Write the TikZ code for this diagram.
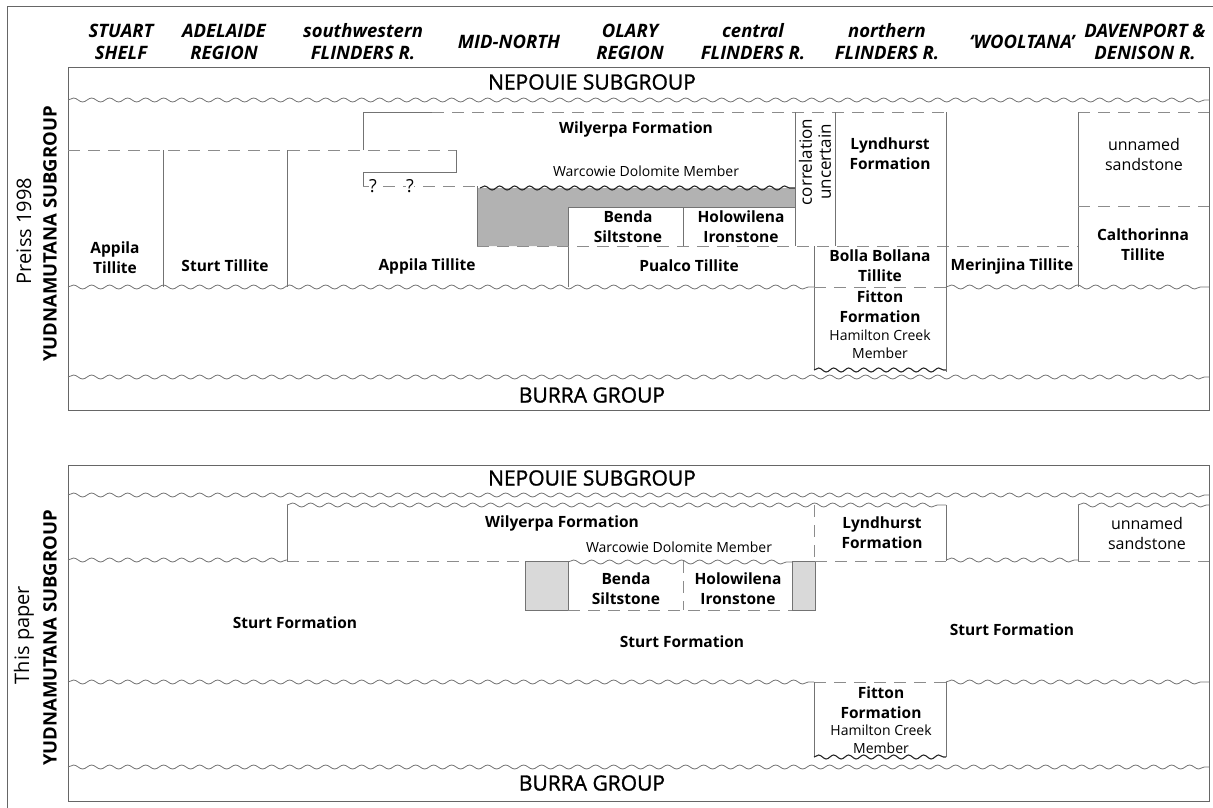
\documentclass[tikz,border=0pt]{standalone}
\usepackage{fontspec}
\setmainfont{Open Sans}
\newfontfamily\heavyfont{Open Sans}[FakeBold=1.2]
\usetikzlibrary{decorations.pathmorphing}

\begin{document}
\begin{tikzpicture}[x=1pt, y=-1pt,
        frameLine/.style={draw=black!60, line width=1pt},
        solidLine/.style={draw=black!55, line width=0.9pt},
        dashLine/.style={draw=black!45, line width=0.9pt, dash pattern=on 12pt off 8pt},
        waveLine/.style={draw=black!55, line width=0.8pt, decorate, decoration={snake, segment length=18pt, amplitude=2pt}},
        boldWave/.style={draw=black!85, line width=1.1pt, decorate, decoration={snake, segment length=15pt, amplitude=2pt}},
        headNode/.style={font=\fontsize{18.5}{22}\selectfont\bfseries\itshape, align=center, inner sep=0pt},
        groupNode/.style={font=\fontsize{21}{25}\selectfont\heavyfont, inner sep=0pt},
        formNode/.style={font=\fontsize{15.5}{20}\selectfont\bfseries, align=center, inner sep=0pt},
        memberNode/.style={font=\fontsize{14}{18}\selectfont, align=center, inner sep=0pt},
        plainNode/.style={font=\fontsize{16}{20}\selectfont, align=center, inner sep=0pt},
        sideNode/.style={font=\fontsize{20}{24}\selectfont, rotate=90, inner sep=0pt},
        sideBold/.style={font=\fontsize{18.5}{22}\selectfont\bfseries, rotate=90, inner sep=0pt}
    ]
        \useasboundingbox (0,0) rectangle (1213,808);
        \draw[frameLine] (7,808) -- (7,7) -- (1213,7);

        \node[headNode] (headStuart) at (121,42) {STUART\\SHELF};
        \node[headNode] (headAdelaide) at (224,42) {ADELAIDE\\REGION};
        \node[headNode] (headSouthwest) at (363,42) {southwestern\\FLINDERS R.};
        \node[headNode] (headMidNorth) at (509,42) {MID-NORTH};
        \node[headNode] (headOlary) at (630,42) {OLARY\\REGION};
        \node[headNode] (headCentral) at (753,42) {central\\FLINDERS R.};
        \node[headNode] (headNorthern) at (887,42) {northern\\FLINDERS R.};
        \node[headNode] (headWooltana) at (1022,42) {‘WOOLTANA’};
        \node[headNode] (headDavenport) at (1145,42) {DAVENPORT \&\\DENISON R.};

        \draw[frameLine] (68,68) rectangle (1209,410);
        \node[sideNode] (preissLabel) at (24,231) {Preiss 1998};
        \node[sideBold] (yudnaOld) at (50,234) {YUDNAMUTANA SUBGROUP};
        \node[groupNode] (nepouieOld) at (592,82) {NEPOUIE SUBGROUP};
        \draw[waveLine] (68,100) -- (1209,100);
        \draw[solidLine] (363,150) -- (363,112) -- (432,112);
        \draw[dashLine] (432,112) -- (946,112);
        \draw[dashLine] (1078,112) -- (1209,112);
        \draw[dashLine] (68,150) -- (456,150);
        \draw[solidLine] (163,150) -- (163,287);
        \draw[solidLine] (287,150) -- (287,287);
        \draw[solidLine] (456,150) -- (456,172) -- (363,172) -- (363,186);
        \draw[dashLine] (363,186) -- (477,186);
        \node[font=\fontsize{18}{20}\selectfont, fill=white, inner sep=0.5pt] (queryA) at (373,186) {?};
        \node[font=\fontsize{18}{20}\selectfont, fill=white, inner sep=0.5pt] (queryB) at (410,186) {?};
        \fill[black!30] (477,188) -- (795,188) -- (795,207) -- (568,207) -- (568,246) -- (477,246) -- cycle;
        \draw[boldWave] (480,188) -- (795,188);
        \draw[solidLine] (477,186) -- (477,246);
        \draw[solidLine] (795,112) -- (795,246);
        \draw[solidLine] (835,112) -- (835,246);
        \draw[solidLine] (568,287) -- (568,207) -- (795,207);
        \draw[solidLine] (683,207) -- (683,246);
        \draw[dashLine] (477,246) -- (1078,246);
        \draw[solidLine] (946,112) -- (946,372);
        \draw[solidLine] (1078,112) -- (1078,287);
        \draw[dashLine] (1078,206) -- (1209,206);
        \draw[solidLine] (814,246) -- (814,370);
        \draw[waveLine] (68,287) -- (814,287);
        \draw[dashLine] (814,287) -- (946,287);
        \draw[waveLine] (946,287) -- (1209,287);
        \draw[boldWave] (814,370) -- (946,370);
        \draw[waveLine] (68,377) -- (1209,377);

        \node[formNode] (wilyerpaOld) at (636,129) {Wilyerpa Formation};
        \node[memberNode] (warcowieOld) at (646,171) {Warcowie Dolomite Member};
        \node[font=\fontsize{17}{19}\selectfont, align=center, inner sep=0pt, rotate=90] (correlation) at (815,162) {correlation\\uncertain};
        \node[formNode] (lyndhurstOld) at (890,154) {Lyndhurst\\Formation};
        \node[plainNode] (sandstoneOld) at (1144,154) {unnamed\\sandstone};
        \node[formNode] (appilaA) at (115,258) {Appila\\Tillite};
        \node[formNode] (sturtTillite) at (225,266) {Sturt Tillite};
        \node[formNode] (appilaB) at (427,266) {Appila Tillite};
        \node[formNode] (bendaOld) at (628,227) {Benda\\Siltstone};
        \node[formNode] (holowilenaOld) at (741,227) {Holowilena\\Ironstone};
        \node[formNode] (pualco) at (689,266) {Pualco Tillite};
        \node[formNode] (bollaBollana) at (880,266) {Bolla Bollana\\Tillite};
        \node[formNode] (merinjina) at (1012,266) {Merinjina Tillite};
        \node[formNode] (calthorinna) at (1143,245) {Calthorinna\\Tillite};
        \node[formNode] (fittonOld) at (880,307) {Fitton\\Formation};
        \node[memberNode] (hamiltonOld) at (880,344) {Hamilton Creek\\Member};
        \node[groupNode] (burraOld) at (592,395) {BURRA GROUP};

        \draw[frameLine] (68,465) rectangle (1209,801);
        \node[sideNode] (paperLabel) at (24,635) {This paper};
        \node[sideBold] (yudnaNew) at (50,638) {YUDNAMUTANA SUBGROUP};
        \node[groupNode] (nepouieNew) at (592,478) {NEPOUIE SUBGROUP};
        \draw[waveLine] (68,495) -- (1209,495);
        \draw[waveLine] (287,505) -- (946,505);
        \draw[waveLine] (1078,505) -- (1209,505);
        \draw[waveLine] (68,560) -- (287,560);
        \draw[solidLine] (287,505) -- (287,561);
        \draw[dashLine] (287,561) -- (525,561);
        \filldraw[solidLine, fill=black!15] (525,561) rectangle (568,610);
        \filldraw[solidLine, fill=black!15] (792,561) rectangle (815,610);
        \draw[waveLine] (568,562) -- (792,562);
        \draw[dashLine] (568,610) -- (792,610);
        \draw[dashLine] (683,561) -- (683,610);
        \draw[dashLine] (814,505) -- (814,561);
        \draw[dashLine] (815,561) -- (946,561);
        \draw[solidLine] (946,505) -- (946,561);
        \draw[waveLine] (946,560) -- (1078,560);
        \draw[solidLine] (1078,505) -- (1078,561);
        \draw[dashLine] (1078,561) -- (1209,561);
        \draw[waveLine] (68,682) -- (814,682);
        \draw[dashLine] (814,682) -- (946,682);
        \draw[waveLine] (946,682) -- (1209,682);
        \draw[solidLine] (814,682) -- (814,757);
        \draw[solidLine] (946,682) -- (946,757);
        \draw[boldWave] (814,757) -- (946,757);
        \draw[waveLine] (68,767) -- (1209,767);

        \node[formNode] (wilyerpaNew) at (562,523) {Wilyerpa Formation};
        \node[memberNode] (warcowieNew) at (679,547) {Warcowie Dolomite Member};
        \node[formNode] (lyndhurstNew) at (882,533) {Lyndhurst\\Formation};
        \node[plainNode] (sandstoneNew) at (1147,533) {unnamed\\sandstone};
        \node[formNode] (bendaNew) at (626,589) {Benda\\Siltstone};
        \node[formNode] (holowilenaNew) at (738,589) {Holowilena\\Ironstone};
        \node[formNode] (sturtWest) at (295,623) {Sturt Formation};
        \node[formNode] (sturtMiddle) at (682,642) {Sturt Formation};
        \node[formNode] (sturtEast) at (1012,630) {Sturt Formation};
        \node[formNode] (fittonNew) at (881,703) {Fitton\\Formation};
        \node[memberNode] (hamiltonNew) at (881,739) {Hamilton Creek\\Member};
        \node[groupNode] (burraNew) at (592,783) {BURRA GROUP};
    \end{tikzpicture}
\end{document}
